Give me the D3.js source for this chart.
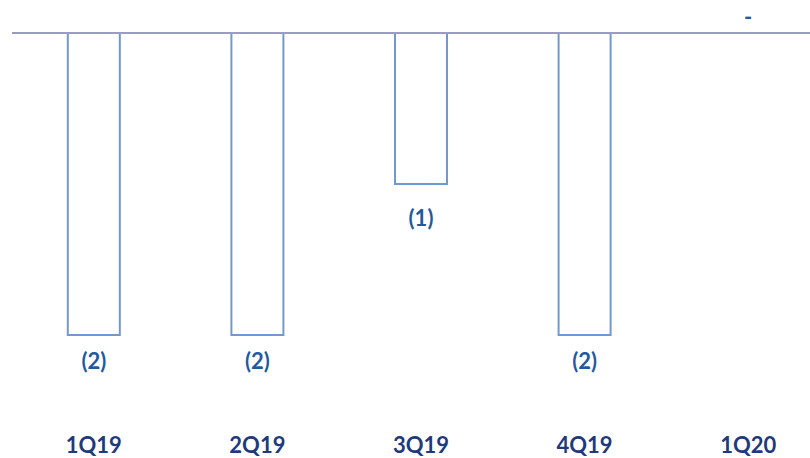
<!DOCTYPE html>
<html><head><meta charset="utf-8">
<script src="https://cdn.jsdelivr.net/npm/d3@7"></script>
<style>body{margin:0;background:#fff}svg{display:block}</style>
</head><body>
<svg id="c" width="810" height="458"></svg>
<script>
const categories = ["1Q19","2Q19","3Q19","4Q19","1Q20"];
const values = [-2, -2, -1, -2, 0];
const valueLabels = ["(2)","(2)","(1)","(2)","-"];

const svg = d3.select("#c");
const x = d3.scaleBand().domain(categories).range([12, 830]).paddingInner(0.676).paddingOuter(0.338);
const y = d3.scaleLinear().domain([0, -2]).range([33, 335]);
const font = "Lato, 'Open Sans', sans-serif";

svg.selectAll("rect.bar").data(categories).enter().append("rect")
  .attr("class","bar")
  .attr("x", d => x(d) + 0.5)
  .attr("y", y(0))
  .attr("width", x.bandwidth() - 1)
  .attr("height", (d,i) => y(values[i]) - y(0))
  .attr("fill","none")
  .attr("stroke","#7298d4")
  .attr("stroke-width",2)
  .style("display",(d,i)=> values[i]===0 ? "none" : null);

svg.append("line").attr("x1",12).attr("x2",810).attr("y1",y(0)).attr("y2",y(0))
  .attr("stroke","#9c9cc0").attr("stroke-width",2);

svg.selectAll("text.val").data(categories).enter().append("text")
  .attr("class","val")
  .attr("x", d => x(d) + x.bandwidth()/2)
  .attr("y", (d,i) => values[i] === 0 ? y(0) - 16 : y(values[i]) + (values[i] <= -2 ? 26 : 34))
  .attr("dy","0.35em")
  .attr("text-anchor","middle")
  .attr("font-family", font).attr("font-weight","bold").attr("font-size", 22)
  .attr("fill","#1f5aa0")
  .text((d,i) => valueLabels[i]);

svg.selectAll("text.cat").data(categories).enter().append("text")
  .attr("class","cat")
  .attr("x", d => x(d) + x.bandwidth()/2)
  .attr("y", 445)
  .attr("dy","0.35em")
  .attr("text-anchor","middle")
  .attr("font-family", font).attr("font-weight","bold").attr("font-size", 22)
  .attr("fill","#1f3a7c")
  .text(d => d);
</script>
</body></html>
